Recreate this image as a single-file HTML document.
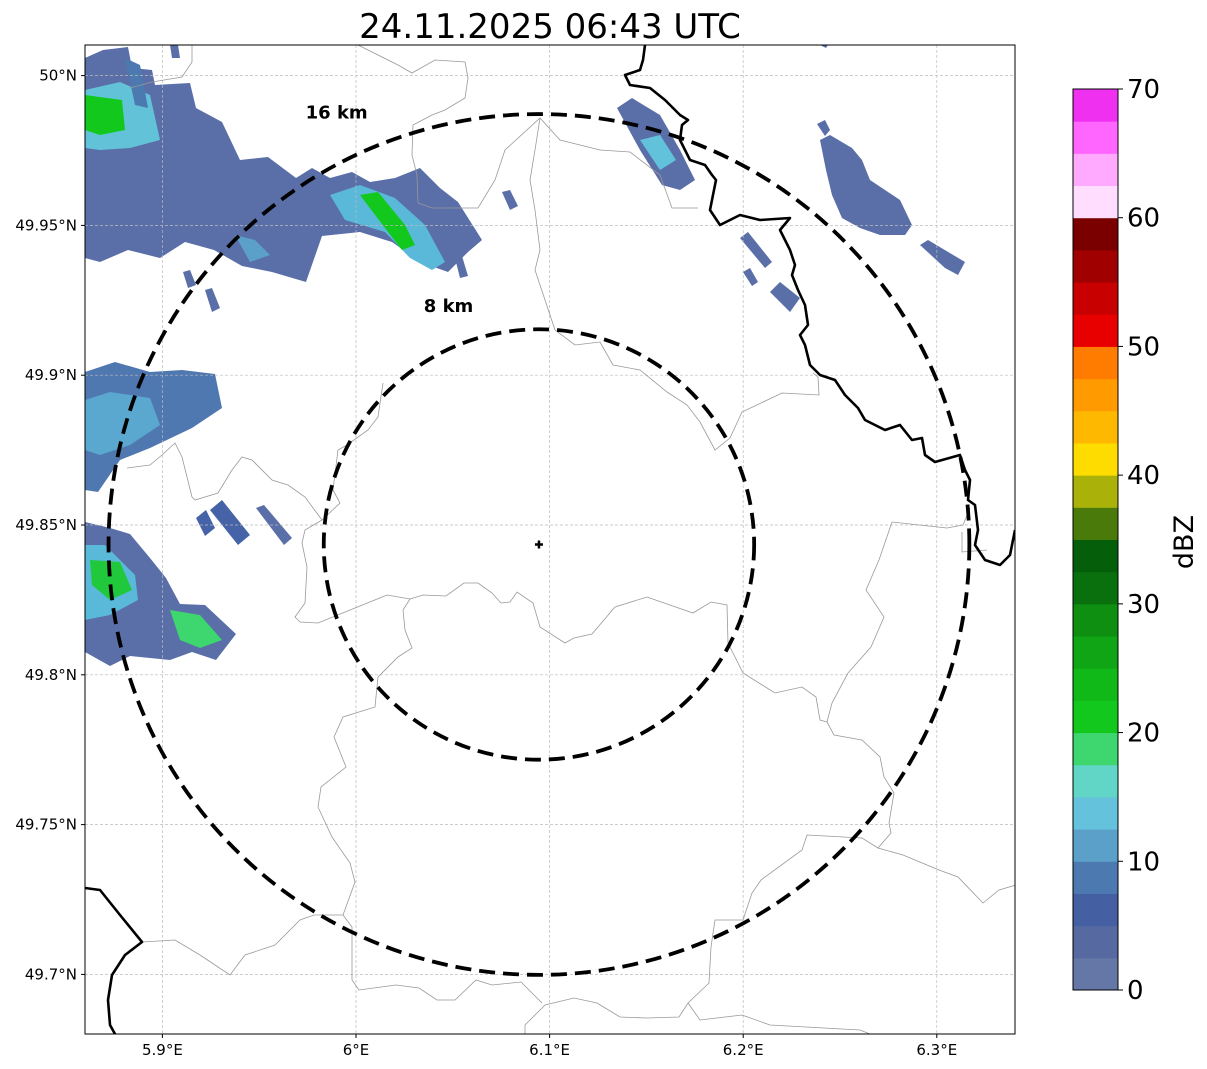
<!DOCTYPE html>
<html><head><meta charset="utf-8"><style>
html,body{margin:0;padding:0;background:#fff;width:1207px;height:1069px;overflow:hidden}
svg{display:block;font-family:"DejaVu Sans","Liberation Sans",sans-serif}
</style></head><body>
<svg id="fig" width="1207" height="1069" viewBox="0 0 1207 1069">
<defs><clipPath id="mapclip"><rect x="85" y="45" width="930" height="989"/></clipPath></defs>
<text x="550" y="38" font-size="34" text-anchor="middle">24.11.2025 06:43 UTC</text>
<g id="map" clip-path="url(#mapclip)"></g>
<rect x="85" y="45" width="930" height="989" fill="none" stroke="#000" stroke-width="1"/>
<g id="axes"></g>
<g id="cbar"></g>
</svg>
<script>
// ---- axis data ----
const lonTicks = [5.9, 6.0, 6.1, 6.2, 6.3];
const lonLabels = ["5.9°E","6°E","6.1°E","6.2°E","6.3°E"];
const latTicks = [50.0, 49.95, 49.9, 49.85, 49.8, 49.75, 49.7];
const latLabels = ["50°N","49.95°N","49.9°N","49.85°N","49.8°N","49.75°N","49.7°N"];
const radarCenter = [6.0945, 49.8435];
const ringKm = [8, 16];
const ringLabels = ["8 km","16 km"];
// ---- colorbar data ----
const cbarTicks = [0,10,20,30,40,50,60,70];
const cbarColors = ["#6577a7","#5669a0","#4560a2","#4c7ab0","#5aa0c8","#64c2dc","#62d6c6","#3dd66f","#12c81c","#10b818","#0fa514","#0e8f12","#0a700e","#055e09","#4a7a0a","#aab20a","#ffdc00","#ffb800","#ff9a00","#ff7c00","#e80000","#c80000","#a00000","#7a0000","#ffddff","#ffaaff","#ff66ff","#f030f0"];

// axis functions
const lon2x = lon => 356 + (lon - 6.0) * 1936;
const lat2y = lat => 525 - (lat - 49.85) * 2996;
const km2px = 26.9;
const NS = "http://www.w3.org/2000/svg";
function mk(tag, attrs, parent){const e=document.createElementNS(NS,tag);for(const k in attrs)e.setAttribute(k,attrs[k]);parent.appendChild(e);return e;}
const map=document.getElementById('map'), axes=document.getElementById('axes'), cbar=document.getElementById('cbar');

// ---- echoes (pixel polygons traced from reflectivity field) ----
const echoBase = [
 [[85,58],[103,50],[128,47],[132,68],[152,70],[155,85],[190,83],[196,108],[222,122],[240,160],[268,157],[296,178],[312,168],[330,178],[352,172],[370,182],[395,178],[420,168],[440,188],[458,202],[482,240],[468,252],[448,272],[420,262],[392,242],[360,232],[322,236],[306,282],[272,272],[242,266],[214,250],[185,242],[160,258],[128,250],[100,262],[85,258]],
 [[85,372],[115,362],[150,372],[182,370],[215,374],[222,408],[192,428],[150,448],[120,460],[98,492],[85,490]],
 [[85,522],[110,528],[130,534],[150,558],[166,578],[180,604],[205,605],[236,634],[216,660],[192,652],[170,660],[130,656],[110,666],[85,652]],
 [[196,518],[206,510],[215,528],[205,536]],[[210,510],[222,500],[250,535],[238,545]],[[256,508],[264,505],[292,538],[284,545]],
 [[617,108],[632,98],[660,115],[680,150],[695,180],[680,190],[662,185],[640,150]],
 [[740,238],[748,232],[772,262],[765,268]],[[743,272],[750,268],[758,282],[752,286]],[[770,292],[780,282],[800,298],[790,312]],
 [[817,124],[825,120],[830,130],[825,136]],[[820,140],[830,135],[852,148],[862,160],[870,180],[885,190],[900,200],[912,225],[905,235],[880,235],[860,228],[842,218],[832,195],[826,170]],
 [[920,245],[928,240],[965,262],[958,275],[945,268]],
 [[170,45],[178,45],[180,58],[172,58]],[[820,45],[828,45],[826,48]],[[502,192],[510,190],[518,206],[510,210]],
 [[183,272],[190,270],[196,285],[188,288]],[[205,290],[212,288],[220,308],[212,312]],[[455,258],[462,256],[468,276],[460,278]]
];
const echoBaseColors = ["#5a6ea8","#4f78b0","#5a6ea8","#4663a8","#4663a8","#5a6ea8","#5a6ea8","#5a6ea8","#5a6ea8","#5a6ea8","#5a6ea8","#5a6ea8","#5a6ea8","#5a6ea8","#5a6ea8","#5a6ea8","#5a6ea8","#5a6ea8","#5a6ea8","#5a6ea8"];
const echoHi = [
 [[85,90],[120,82],[150,95],[160,140],[130,148],[100,150],[85,148]],
 [[85,95],[122,100],[125,130],[100,135],[85,130]],
 [[330,195],[360,185],[395,198],[425,225],[445,262],[432,270],[410,258],[385,232],[345,220]],
 [[360,195],[378,192],[405,225],[415,245],[402,250],[385,228]],
 [[85,400],[110,392],[150,398],[160,425],[130,445],[100,455],[85,450]],
 [[85,545],[105,545],[135,575],[138,600],[110,615],[85,620]],
 [[90,560],[120,562],[132,590],[110,600],[92,585]],
 [[170,610],[200,615],[222,640],[200,648],[180,640]],
 [[640,140],[660,135],[676,160],[660,170]],
 [[235,235],[255,240],[270,255],[250,262]],[[125,58],[140,65],[148,108],[135,105]]
];
const echoHiColors = ["#62c2d8","#12c81c","#5ab8d8","#12c81c","#5aa8d0","#5ab8d8","#20c83c","#3dd66f","#62c2dc","#5aa0c8","#4c7ab0"];
echoBase.forEach((p,i)=>{const e=mk('polygon',{points:p.map(q=>q.join(',')).join(' '),fill:echoBaseColors[i]},map);

});
echoHi.forEach((p,i)=>{const e=mk('polygon',{points:p.map(q=>q.join(',')).join(' '),fill:echoHiColors[i]},map);

});

// ---- gridlines ----
lonTicks.forEach(v=>{const e=mk('line',{x1:lon2x(v),x2:lon2x(v),y1:45,y2:1034,stroke:'#bbb','stroke-width':0.7,'stroke-dasharray':'3,2'},map);

});
latTicks.forEach(v=>{const e=mk('line',{x1:85,x2:1015,y1:lat2y(v),y2:lat2y(v),stroke:'#bbb','stroke-width':0.7,'stroke-dasharray':'3,2'},map);

});

// ---- borders ----
const grayLines = [
 [[300,622],[318,623],[355,608],[387,595],[410,599],[423,595],[446,596],[464,583],[478,583],[492,593],[501,603],[510,602],[517,592],[533,603],[540,627],[565,643],[574,638],[592,634],[615,607],[647,597],[693,613],[711,602],[727,605],[728,643],[743,673],[775,693],[802,687],[816,697],[820,720],[827,722],[834,735],[862,740],[880,757],[884,777],[894,793],[889,823],[891,833],[878,848],[903,855],[939,870],[958,877],[983,903],[999,890],[1016,885]],
 [[878,848],[862,838],[807,835],[802,850],[761,880],[752,893],[743,920],[715,920],[711,947],[709,983],[688,1003],[679,1017],[647,1018],[620,1017],[597,1003],[574,998],[545,1005],[525,1025],[525,1034]],
 [[688,1003],[700,1020],[742,1015],[770,1025],[860,1030],[870,1034]],
 [[410,599],[403,610],[405,630],[412,648],[398,657],[378,677],[375,707],[343,717],[334,737],[346,767],[321,787],[318,807],[332,837],[350,863],[355,882],[343,915],[314,915],[300,920],[275,945],[245,955],[230,975],[215,965],[200,955],[175,940],[142,942]],
 [[343,915],[352,927],[352,980],[359,990],[396,985],[419,988],[437,1000],[455,1000],[476,980],[492,985],[521,982],[542,1003]],
 [[127,468],[150,465],[162,455],[175,443],[182,457],[192,497],[195,500],[218,493],[232,470],[242,457],[252,460],[272,480],[288,485],[305,497],[322,520],[340,503],[333,490],[338,450],[347,445],[368,430],[378,417],[383,383]],
 [[322,520],[305,530],[302,543],[307,567],[305,603],[295,617],[300,622]],
 [[192,45],[192,62],[182,77],[152,82],[130,88]],
 [[358,45],[398,65],[412,73],[435,60],[465,62],[468,78],[465,98],[445,110],[432,115],[413,125],[412,155],[417,175],[418,203],[432,208],[478,208],[495,180],[505,150],[540,118],[560,140],[600,150],[630,152],[660,175],[672,208],[698,208]],
 [[540,118],[535,150],[530,180],[535,210],[540,250],[535,270],[545,300],[555,330],[575,345],[600,342],[613,365],[640,370],[667,392],[687,405],[700,422],[715,450],[730,438],[742,412],[782,393],[819,395],[818,377],[813,373]],
 [[827,722],[832,703],[848,673],[871,647],[884,617],[866,590],[879,560],[892,522],[947,528],[963,525],[970,508]],
 [[962,532],[962,552],[987,550]]
];
grayLines.forEach(l=>{const e=mk('polyline',{points:l.map(q=>q.join(',')).join(' '),fill:'none',stroke:'#999','stroke-width':0.8},map);

});
const blackLines = [
 [[645,45],[643,60],[640,70],[625,75],[630,85],[650,88],[665,100],[680,115],[688,120],[682,125],[680,140],[690,160],[705,165],[712,175],[716,180],[710,210],[720,225],[740,215],[760,220],[790,218],[780,230],[790,250],[795,265],[792,275],[798,290],[805,305],[808,325],[800,335],[805,345],[810,365],[820,375],[835,380],[845,395],[858,408],[865,420],[885,430],[900,425],[912,440],[922,438],[925,455],[935,462],[960,455],[965,470],[970,480],[968,500],[975,505],[978,530],[975,545],[985,560],[1000,565],[1010,555],[1015,530]],
 [[85,888],[100,890],[120,915],[142,942],[125,955],[112,975],[108,1000],[110,1025],[115,1034]]
];
blackLines.forEach(l=>{const e=mk('polyline',{points:l.map(q=>q.join(',')).join(' '),fill:'none',stroke:'#000','stroke-width':2.6,'stroke-linejoin':'round'},map);

});

// ---- range rings ----
const cx=lon2x(radarCenter[0]), cy=lat2y(radarCenter[1]);
ringKm.forEach((k,i)=>{const r=k*km2px;
const c=mk('circle',{cx:cx,cy:cy,r:r,fill:'none',stroke:'#000','stroke-width':3.8,'stroke-dasharray':'16,8'},map);


const t=mk('text',{x:cx-r*(k===16?0.47:0.42),y:cy-r*(k===16?0.99:1.08),'font-size':18,'font-weight':'bold','text-anchor':'middle'},map);
t.textContent=ringLabels[i];

});
const cm=mk('path',{d:`M${cx-4},${cy}H${cx+4}M${cx},${cy-4}V${cy+4}`,stroke:'#000','stroke-width':2.5},map);



// ---- tick labels ----
lonTicks.forEach((v,i)=>{mk('line',{x1:lon2x(v),x2:lon2x(v),y1:1034,y2:1038,stroke:'#000'},axes);
const t=mk('text',{x:lon2x(v),y:1055,'font-size':15,'text-anchor':'middle'},axes);t.textContent=lonLabels[i];

});
latTicks.forEach((v,i)=>{mk('line',{x1:81,x2:85,y1:lat2y(v),y2:lat2y(v),stroke:'#000'},axes);
const t=mk('text',{x:77,y:lat2y(v)+5,'font-size':15,'text-anchor':'end'},axes);t.textContent=latLabels[i];

});

// ---- colorbar ----
const cb0=990, cbTop=89, cbX=1073, cbW=45;
const v2y = v => cb0 - (v/70)*(cb0-cbTop);
cbarColors.forEach((c,i)=>{const lo=i*2.5, hi=Math.min(70,(i+1)*2.5); if(lo>=70)return;
const r=mk('rect',{x:cbX,y:v2y(hi),width:cbW,height:v2y(lo)-v2y(hi)+0.5,fill:c},cbar);

});
mk('rect',{x:cbX,y:cbTop,width:cbW,height:cb0-cbTop,fill:'none',stroke:'#000','stroke-width':1},cbar);
cbarTicks.forEach(v=>{mk('line',{x1:cbX+cbW,x2:cbX+cbW+5,y1:v2y(v),y2:v2y(v),stroke:'#000'},cbar);
const t=mk('text',{x:cbX+cbW+9,y:v2y(v)+9,'font-size':26},cbar);t.textContent=v;

});
const ct=mk('text',{x:1193,y:542,'font-size':27,'text-anchor':'middle',transform:'rotate(-90 1193 542)'},cbar);
ct.textContent='dBZ';


</script>
</body></html>
